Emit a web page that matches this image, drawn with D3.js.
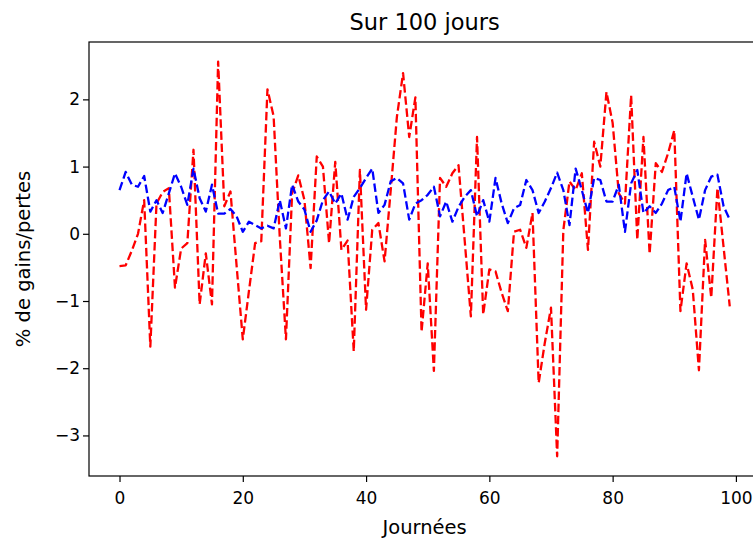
<!DOCTYPE html>
<html><head><meta charset="utf-8">
<script src="https://cdn.jsdelivr.net/npm/d3@7/dist/d3.min.js"></script>
<style>
body{margin:0;background:#fff}
svg{display:block}
text{font-family:"DejaVu Sans",sans-serif;fill:#000}
</style>
</head><body>
<svg id="chart" width="753" height="540"></svg>
<script>
const titleText = "Sur 100 jours";
const xLabelText = "Journées";
const yLabelText = "% de gains/pertes";
const days = d3.range(100);
const redValues = [
 -0.48,-0.47,-0.25,0.0,0.5,-1.68,0.45,0.62,0.68,-0.8,
 -0.22,-0.14,1.25,-1.05,-0.29,-1.05,2.56,0.41,0.63,-0.48,
 -1.57,-0.85,-0.14,-0.11,2.15,1.75,-0.05,-1.57,0.6,0.87,
 0.5,-0.51,1.15,1.0,-0.14,1.07,-0.24,-0.1,-1.75,0.95,
 -1.13,0.06,0.16,-0.41,0.65,1.74,2.39,1.44,2.03,-1.46,
 -0.44,-2.04,0.83,0.7,0.9,1.02,-0.1,-1.23,1.44,-1.2,
 -0.53,-0.56,-0.88,-1.15,0.03,0.06,-0.21,0.31,-2.22,-1.62,
 -1.1,-3.31,0.05,0.78,0.65,0.9,-0.24,1.37,1.0,2.11,
 1.65,0.6,0.45,2.06,-0.09,1.44,-0.3,1.05,0.92,1.2,
 1.54,-1.15,-0.44,-0.83,-2.03,-0.09,-0.95,0.68,-0.2,-1.08
];
const blueValues = [
 0.65,0.92,0.73,0.70,0.86,0.33,0.50,0.31,0.60,0.90,
 0.70,0.43,0.97,0.53,0.33,0.73,0.30,0.30,0.37,0.26,
 0.03,0.18,0.13,0.08,0.12,0.08,0.50,0.08,0.73,0.48,
 0.36,0.03,0.20,0.50,0.63,0.45,0.60,0.21,0.55,0.68,
 0.83,0.97,0.31,0.43,0.78,0.83,0.75,0.21,0.45,0.50,
 0.58,0.70,0.26,0.48,0.18,0.40,0.55,0.65,0.26,0.50,
 0.18,0.83,0.45,0.16,0.38,0.43,0.80,0.65,0.31,0.48,
 0.68,0.91,0.65,0.13,0.97,0.65,0.31,0.83,0.80,0.48,
 0.48,0.73,0.03,0.75,0.95,0.31,0.41,0.31,0.45,0.65,
 0.70,0.18,0.90,0.55,0.21,0.65,0.85,0.88,0.41,0.21
];
const xTicks = [0,20,40,60,80,100];
const yTicks = [-3,-2,-1,0,1,2];

const svg = d3.select("#chart");
const plotLeft = 89, plotTop = 42, plotBottom = 476;
const pxPerDay = 6.164;

const xMin = d3.min(days), xMax = d3.max(days);
const xPad = (xMax - xMin) * 0.05;
const allY = redValues.concat(blueValues);
const yMin = d3.min(allY), yMax = d3.max(allY);
const yPad = (yMax - yMin) * 0.05;

const x = d3.scaleLinear().domain([xMin - xPad, xMax + xPad])
  .range([plotLeft, plotLeft + (xMax - xMin + 2 * xPad) * pxPerDay]);
const y = d3.scaleLinear().domain([yMin - yPad, yMax + yPad]).range([plotBottom, plotTop]);

const fmt = d3.format("d");

// series
const line = d3.line().x((d, i) => x(days[i])).y(d => y(d));
const series = [
  {values: redValues, color: "#ff0000"},
  {values: blueValues, color: "#0000ff"}
];
svg.append("g").selectAll("path").data(series).join("path")
  .attr("d", s => line(s.values))
  .attr("fill", "none")
  .attr("stroke", s => s.color)
  .attr("stroke-width", 2.3)
  .attr("stroke-dasharray", "8.5,3.7")
  .attr("stroke-linejoin", "round");

// frame
const xr = x.range();
svg.append("rect")
  .attr("x", xr[0]).attr("y", plotTop)
  .attr("width", xr[1] - xr[0]).attr("height", plotBottom - plotTop)
  .attr("fill", "none").attr("stroke", "#000").attr("stroke-width", 1.2);

// x axis
const gx = svg.append("g").attr("transform", `translate(0,${plotBottom})`)
  .call(d3.axisBottom(x).tickValues(xTicks).tickFormat(fmt).tickSize(6).tickPadding(10));
gx.select(".domain").remove();
gx.selectAll(".tick line").attr("stroke", "#000").attr("stroke-width", 1.2);
gx.selectAll(".tick text").attr("font-size", 17).attr("font-family", "DejaVu Sans").attr("fill", "#000");

// y axis
const gy = svg.append("g").attr("transform", `translate(${plotLeft},0)`)
  .call(d3.axisLeft(y).tickValues(yTicks).tickFormat(fmt).tickSize(6).tickPadding(3));
gy.select(".domain").remove();
gy.selectAll(".tick line").attr("stroke", "#000").attr("stroke-width", 1.2);
gy.selectAll(".tick text").attr("font-size", 17).attr("font-family", "DejaVu Sans").attr("fill", "#000");

// title & labels
const cx = (xr[0] + xr[1]) / 2;
svg.append("text").attr("x", cx).attr("y", 30).attr("text-anchor", "middle")
  .attr("font-size", 22.5).text(titleText);
svg.append("text").attr("x", cx).attr("y", 534).attr("text-anchor", "middle")
  .attr("font-size", 19.5).text(xLabelText);
svg.append("text").attr("transform", `translate(29.5,${(plotTop + plotBottom) / 2}) rotate(-90)`)
  .attr("text-anchor", "middle").attr("font-size", 19.5).text(yLabelText);
</script>
</body></html>
